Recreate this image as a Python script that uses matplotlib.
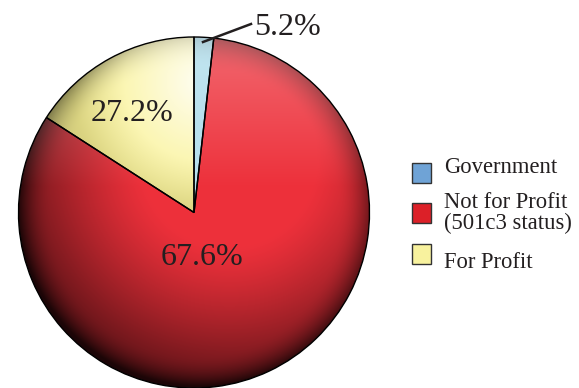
import numpy as np
import matplotlib
matplotlib.use("Agg")
import matplotlib.pyplot as plt
from matplotlib.patches import Rectangle

# Data (drawn slice sizes; printed labels as shown)
categories = ["Government", "Not for Profit\n(501c3 status)", "For Profit"]
drawn_shares = [1.8, 82.3, 15.9]
label_texts = ["5.2%", "67.6%", "27.2%"]
base_colors = [(0.72, 0.88, 0.93), (0.93, 0.19, 0.23), (0.98, 0.95, 0.58)]
legend_colors = ["#6fa3d6", "#dc2028", "#f8f29e"]

W, H = 579, 388
fig = plt.figure(figsize=(W / 100, H / 100), dpi=100)
ax = fig.add_axes([0, 0, 1, 1])

cx, cy, R = 194, 388 - 212.5, 175.5
wedges, _ = ax.pie(drawn_shares, center=(cx, cy), radius=R, startangle=90,
                   counterclock=False, frame=True,
                   wedgeprops=dict(edgecolor="black", linewidth=1.0))
ax.set_xlim(0, W)
ax.set_ylim(0, H)
ax.set_aspect("equal")
ax.axis("off")

# shading image over pie bbox
n = 500
xs = np.linspace(cx - R, cx + R, n)
ys = np.linspace(cy - R, cy + R, n)
X, Y = np.meshgrid(xs, ys)
u = (X - cx) / R
v = (Y - cy) / R
r = np.sqrt(u ** 2 + v ** 2)
tG = np.sqrt((u - 0.2) ** 2 + (v - 0.3) ** 2)
rim = np.clip((r - 0.82) / 0.18, 0, 1) ** 2

# red
dark_red = np.clip((tG - 0.5) / 0.9, 0, 1) ** 1.2 * 0.7 + rim * 0.3
light_red = np.clip(v - 0.15, 0, 1) * 0.32
# yellow: whiter towards the upper right, more saturated/darker to the left
tY = np.sqrt((u - 0.05) ** 2 + (v - 0.75) ** 2)
light_y = np.clip(1 - tY / 0.75, 0, 1) ** 1.2 * 0.9
dark_y = np.clip((tY - 0.45) / 0.6, 0, 1) * 0.25 + rim * 0.3
# blue
light_b = np.clip(v - 0.5, 0, 1) * 0.3
dark_b = rim * 0.15

shade = [(light_b, dark_b), (light_red, np.clip(dark_red, 0, 0.88)), (light_y, dark_y)]
for w, base, (light, dark) in zip(wedges, base_colors, shade):
    img = np.zeros((n, n, 3))
    for k in range(3):
        c = base[k] * (1 - dark)
        img[..., k] = c * (1 - light) + light
    w.set_facecolor("none")
    w.set_zorder(3)
    im = ax.imshow(img, extent=(cx - R, cx + R, cy - R, cy + R), origin="lower",
                   zorder=2, interpolation="bilinear")
    im.set_clip_path(w)

ax.set_xlim(0, W)
ax.set_ylim(0, H)

serif = ["Liberation Serif", "DejaVu Serif"]
txt_color = "#231f20"

# slice labels
ax.text(132, 388 - 121, label_texts[2], fontsize=23, family=serif, color=txt_color,
        ha="center", va="baseline", zorder=5)
ax.text(202, 388 - 265, label_texts[1], fontsize=23, family=serif, color=txt_color,
        ha="center", va="baseline", zorder=5)
ax.plot([203, 251], [388 - 42, 388 - 24], color=txt_color, lw=1.8, zorder=5)
ax.text(254, 388 - 35, label_texts[0], fontsize=23, family=serif, color=txt_color,
        ha="left", va="baseline", zorder=5)

# legend
box_top = [163, 203, 244]
baselines = [[173], [208, 229], [268]]
for c, lab, bt, bls in zip(legend_colors, categories, box_top, baselines):
    ax.add_patch(Rectangle((412, 388 - bt - 20), 19, 20, facecolor=c,
                           edgecolor="#333333", lw=1.0, zorder=5))
    for line, bl in zip(lab.split("\n"), bls):
        ax.text(444, 388 - bl, line, fontsize=16.3, family=serif, color=txt_color,
                ha="left", va="baseline", zorder=5)

fig.savefig("out.png", dpi=100)
